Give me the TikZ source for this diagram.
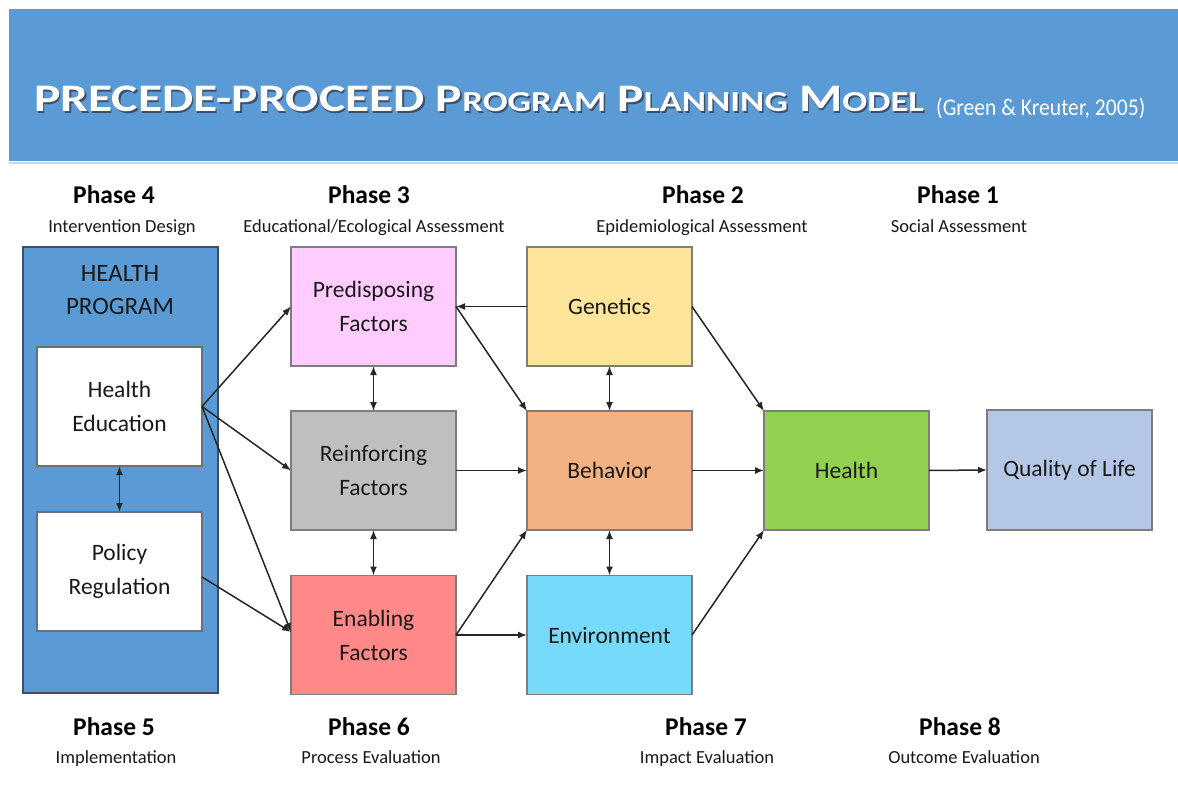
\documentclass[tikz,border=0pt]{standalone}
\usepackage{fontspec}
\setmainfont{Carlito}
\newfontfamily\titlefont{Carlito}[FakeStretch=1.27]
\newfontfamily\citefont{Carlito}[FakeStretch=0.9]
\usetikzlibrary{arrows.meta}

\definecolor{banner}{RGB}{91,155,213}
\definecolor{bannerline}{RGB}{190,215,238}
\definecolor{hpborder}{RGB}{62,78,100}
\definecolor{boxgray}{RGB}{125,125,125}
\definecolor{txt}{RGB}{25,25,25}
\definecolor{predfill}{RGB}{255,204,255}
\definecolor{reinffill}{RGB}{191,191,191}
\definecolor{enabfill}{RGB}{255,137,137}
\definecolor{genfill}{RGB}{255,229,153}
\definecolor{behfill}{RGB}{244,177,131}
\definecolor{envfill}{RGB}{118,218,250}
\definecolor{healthfill}{RGB}{146,208,80}
\definecolor{qolfill}{RGB}{180,199,231}
\definecolor{shadowc}{RGB}{60,80,110}

\newcommand\ppmtitle{\titlefont\bfseries\fontsize{39}{39}\selectfont
  PRECEDE-PROCEED P{\fontsize{29}{29}\selectfont ROGRAM}
  P{\fontsize{29}{29}\selectfont LANNING}
  M{\fontsize{29}{29}\selectfont ODEL}}
% white title with a soft dark shadow set behind it in the same box
\newcommand\shadowedtitle{%
  \rlap{\raisebox{-2.5pt}[0pt][0pt]{\hspace{1.5pt}\color{shadowc}\ppmtitle}}%
  {\color{white}\ppmtitle}}

\tikzset{
  box/.style={draw=boxgray, line width=1.2pt, outer sep=0pt, inner sep=0pt,
    minimum width=165pt, minimum height=119pt, align=center, text=txt,
    font=\fontsize{23.5}{34}\selectfont},
  phase/.style={anchor=base, text=black, font=\bfseries\fontsize{25.5}{26}\selectfont},
  phasesub/.style={anchor=base, text=txt, font=\fontsize{18.5}{20}\selectfont},
  arr/.style={-{Latex[length=9pt,width=7pt]}, line width=1.5pt, draw=black!85},
  dbl/.style={{Latex[length=9pt,width=7pt]}-{Latex[length=9pt,width=7pt]},
    line width=1.5pt, draw=black!85},
}

\begin{document}
\begin{tikzpicture}[x=1pt,y=-1pt]
\useasboundingbox (0,0) rectangle (1178,787);
\fill[white] (0,0) rectangle (1178,787);

% title banner
\fill[banner] (9,9) rectangle (1178,161);
\draw[bannerline, line width=1.5pt] (9,163) -- (1178,163);
\node[anchor=base west, inner sep=0pt] (title) at (34,111) {\shadowedtitle};
\node[anchor=base west, inner sep=0pt, text=white] (cite) at (936,115)
  {\citefont\fontsize{24}{24}\selectfont (Green \& Kreuter, 2005)};

% phase headings
\node[phase] (p4) at (114,203) {Phase 4};
\node[phasesub] (p4s) at (122,232) {Intervention Design};
\node[phase] (p3) at (369,203) {Phase 3};
\node[phasesub] (p3s) at (374,232) {Educational/Ecological Assessment};
\node[phase] (p2) at (703,203) {Phase 2};
\node[phasesub] (p2s) at (702,232) {Epidemiological Assessment};
\node[phase] (p1) at (958,203) {Phase 1};
\node[phasesub] (p1s) at (959,232) {Social Assessment};

\node[phase] (p5) at (114,735) {Phase 5};
\node[phasesub] (p5s) at (116,763) {Implementation};
\node[phase] (p6) at (369,735) {Phase 6};
\node[phasesub] (p6s) at (371,763) {Process Evaluation};
\node[phase] (p7) at (706,735) {Phase 7};
\node[phasesub] (p7s) at (707,763) {Impact Evaluation};
\node[phase] (p8) at (960,735) {Phase 8};
\node[phasesub] (p8s) at (964,763) {Outcome Evaluation};

% health program block
\node[box, fill=banner, draw=hpborder, minimum width=195pt, minimum height=446pt] (hp) at (120.5,470) {};
\node[align=center, text=txt, font=\fontsize{25}{33}\selectfont] (hptitle) at (120,290) {HEALTH\\PROGRAM};
\node[box, fill=white, draw=hpborder!80] (he) at (119.5,406.5) {Health\\Education};
\node[box, fill=white, draw=hpborder!80] (pol) at (119.5,571.5) {Policy\\Regulation};

% factor boxes
\node[box, fill=predfill] (pred) at (373.5,306.5) {Predisposing\\Factors};
\node[box, fill=reinffill] (reinf) at (373.5,470.5) {Reinforcing\\Factors};
\node[box, fill=enabfill] (enab) at (373.5,635) {Enabling\\Factors};

\node[box, fill=genfill] (gen) at (609.5,306.5) {Genetics};
\node[box, fill=behfill] (beh) at (609.5,470.5) {Behavior};
\node[box, fill=envfill] (env) at (609.5,635) {Environment};

\node[box, fill=healthfill] (health) at (846.5,470.5) {Health};
\node[box, fill=qolfill, minimum height=120pt] (qol) at (1069.5,470) {Quality of Life};

% connectors
\draw[dbl] (he.south) -- (pol.north);
\draw[arr] (he.east) -- (pred.west);
\draw[arr] (he.east) -- (reinf.west);
\draw[arr] (he.east) -- ([yshift=3pt]enab.west);
\draw[arr] ([yshift=-5.5pt]pol.east) -- ([yshift=3pt]enab.west);

\draw[arr] (gen.west) -- (pred.east);
\draw[arr] (pred.east) -- (beh.north west);
\draw[dbl] (pred.south) -- (reinf.north);
\draw[dbl] (reinf.south) -- (enab.north);
\draw[arr] (reinf.east) -- (beh.west);
\draw[arr] (enab.east) -- (beh.south west);
\draw[arr] (enab.east) -- (env.west);

\draw[dbl] (gen.south) -- (beh.north);
\draw[dbl] (beh.south) -- (env.north);
\draw[arr] (gen.east) -- (health.north west);
\draw[arr] (beh.east) -- (health.west);
\draw[arr] (env.east) -- (health.south west);
\draw[arr] (health.east) -- (qol.west);
\end{tikzpicture}
\end{document}
